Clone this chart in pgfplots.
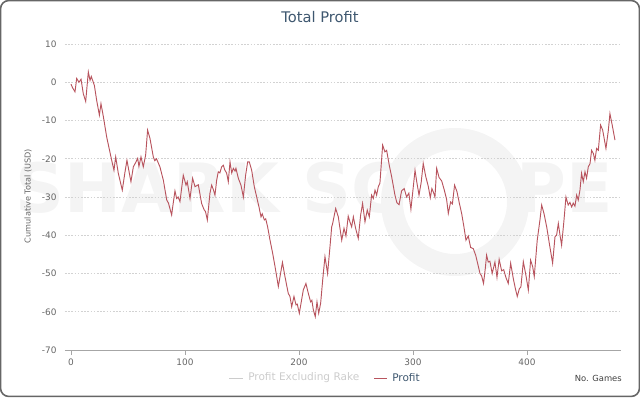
\documentclass[border=0pt]{standalone}
\usepackage{pgfplots}
\pgfplotsset{compat=1.18}
\usepackage{fontspec}
\setmainfont{DejaVu Sans}
\definecolor{linered}{RGB}{184,84,94}
\definecolor{titleblue}{RGB}{62,87,111}
\definecolor{tickgray}{RGB}{102,102,102}
\definecolor{gridgray}{RGB}{210,210,210}
\definecolor{wm}{RGB}{244,244,244}
\definecolor{hidden}{RGB}{204,204,204}
\pgfplotstableread{
g v
0 -0.5
1.5 -1.5
3.5 -2.5
5 1
7 0
8.8 0.8
10.8 -3
12.9 -5
15.2 2.7
16.7 0.5
17.8 1.5
20.5 -0.8
22.5 -4.7
24.9 -8.6
26.3 -5.6
28.4 -9
31.3 -14.3
35.7 -20.4
37.7 -23
39.2 -19.5
41.5 -23.8
45 -28.2
47.4 -23.4
49.1 -20.4
51.2 -23.8
52.6 -26
54.7 -22.1
56.7 -21
58.5 -19.9
59.6 -22
61.4 -19.5
63.4 -22.1
65.5 -19
67.2 -12.5
69.3 -14.7
72.2 -19.5
73.5 -20.5
75 -20
78 -22.1
81 -25.6
84 -30.8
85.5 -31.6
88.3 -34.7
89.5 -32
91.2 -28.4
92.7 -30.4
94 -30
95.6 -31.2
98.5 -24.3
100.9 -26.9
102 -26
104.4 -30.4
106.7 -25.1
108.8 -27.3
111.7 -26.8
114.6 -31.7
116.9 -33.4
118 -33.8
119.6 -36
121.9 -29
123.4 -26.9
124.8 -28
126.3 -29.5
127.8 -25.6
129.2 -23.4
130.6 -23.7
132.2 -22.1
133.6 -21.7
135 -23
136.5 -23.7
138 -26
139.5 -20.8
141 -23.7
142.4 -22.5
143.9 -23.2
144.7 -22.5
146.8 -25.1
149.1 -26.9
151.2 -30
153.2 -24.3
155 -20.8
156.4 -20.8
158.5 -23
160.8 -27.3
162.9 -30
164.9 -32.6
166.7 -35.2
167.8 -34.4
169.6 -36
170.8 -35.7
172.5 -37.8
174.6 -41.3
176.9 -44.7
179 -48.2
181.9 -53.4
185.5 -47.1
187.7 -50.8
190.6 -55.2
192.1 -56
193.6 -58.7
195.6 -56
197.4 -58.2
198.5 -58
200.3 -60.4
202.3 -56.9
203.8 -54.3
206.1 -52.6
208.2 -55.2
210.2 -57.4
211.3 -57
212.6 -59.5
214.3 -61.3
215.8 -57.4
217.3 -60.4
219 -57.8
220.8 -51.7
222.8 -45.6
225.1 -50
227.2 -43
228.7 -37.8
229.5 -37
232.2 -33
234.5 -35.2
237.5 -41.3
239.5 -38.2
241.2 -40.2
243.2 -35
244.7 -36.5
246.2 -37.8
247.7 -35.2
249.7 -38.2
252 -40.8
254.1 -34.7
255.8 -31.7
257.9 -36.5
259.9 -33.4
261.7 -35.2
263.7 -29.5
265.2 -30.4
266.7 -28.2
268.1 -29.5
269.6 -27.3
271 -26.4
273.4 -16.4
275.4 -18.2
276.9 -17.8
279.2 -21.7
281.3 -24.7
284.2 -29.5
285.9 -31.5
287.8 -32
290 -28.4
292.3 -27.8
294.4 -30
296.4 -29
298.2 -33.2
300.3 -27.3
301.8 -23
303.2 -25.8
305.3 -29.5
307.2 -26.2
309 -21.2
311.1 -24.5
313.5 -27.3
315.2 -30.2
316.6 -27.8
318 -28.8
319.3 -30
320.8 -22.5
322.9 -24.9
325.2 -25.8
327.5 -28.2
329.5 -30.6
331 -34.3
333 -31.3
334.6 -31.8
336.5 -26.9
338.6 -28.6
340.6 -31.5
342.7 -34.3
344.7 -37.8
346.5 -41.3
348.5 -40.2
350.6 -43.2
352.9 -43.5
355 -45.2
356.7 -47.3
358.8 -50
360.2 -50.6
361.9 -52.6
363.4 -48.8
364.6 -45.2
366 -47
367.5 -46.8
369.5 -50
371.9 -47
373.7 -51
375.6 -46.3
377.8 -49.3
379.6 -49
381.5 -51
383.6 -52.6
385.7 -47.3
388 -51.3
389.8 -53.9
391.5 -56
393.3 -54
394.7 -53.5
396.8 -46.9
399.1 -50.5
401.2 -54.3
403.2 -46.5
405 -48.2
406.4 -50.8
409 -41.3
411.4 -36
412.9 -32.1
415 -34.4
417.3 -37.8
419.6 -42.1
422.5 -47.3
424.6 -40.4
426 -40
427.5 -36.9
429 -40
430.4 -42.6
432.5 -36
434.2 -30
436.2 -32.1
437.7 -31.4
439.2 -32.6
440.6 -31.6
442.1 -32.4
443.6 -29.5
445 -30.8
446.5 -28.2
447.9 -23.8
449.4 -26
450.9 -23.4
452.3 -25.1
453.8 -22.1
455.3 -21.3
456.7 -17.8
458.2 -18.6
459.6 -20.4
461.1 -17.3
462.6 -17.8
464.6 -11.2
466.4 -12.5
467.8 -14.8
469.3 -17.3
471.3 -12.8
472.8 -8.2
475.1 -11.7
477.2 -15.1
}\profit
\begin{document}
\begin{tikzpicture}[x=0.75pt,y=0.75pt]
\path[use as bounding box] (-65,-47) rectangle (575,350);
\draw[rounded corners=6, draw=black!60, line width=1.2] (-64.4,-46.4) rectangle (574.4,349.4);
% watermark
\node[anchor=base west, inner sep=0, text=wm, font=\fontsize{51pt}{51pt}\selectfont\bfseries] at (-50,137) {SHARK SC};
\node[anchor=base east, inner sep=0, text=wm, font=\fontsize{51pt}{51pt}\selectfont\bfseries] at (548,137) {PE};
\draw[wm, line width=16.5pt] (390,148) circle (63);
\begin{axis}[at={(0,0)}, anchor=south west, scale only axis,
  width=417pt, height=229.5pt,
  xmin=-5.26, xmax=482.5, ymin=-70, ymax=10,
  axis x line=bottom, axis y line=left,
  x axis line style={draw=black!35, -},
  y axis line style={draw=none},
  xtick={0,100,200,300,400}, ytick={-70,-60,...,10},
  ytick style={draw=none},
  xtick style={draw=black!35},
  xtick align=outside, major tick length=3.75pt,
  ymajorgrids,
  grid style={gridgray, dash pattern=on 1.2pt off 1.2pt, line width=0.5pt},
  /pgf/number format/assume math mode=true,
  ticklabel style={font=\fontsize{6.7}{8}\selectfont, text=tickgray},
  yticklabel style={xshift=-1pt},
  xticklabel style={yshift=1pt},
  clip=false]
\addplot[linered, line width=0.7pt, mark=none] table[x=g, y=v] {\profit};
\end{axis}
\node[font=\fontsize{11}{12}\selectfont, text=titleblue] at (255,333) {Total Profit};
\node[rotate=90, font=\fontsize{6.1}{7}\selectfont, text=tickgray] at (-37,154) {Cumulative Total (USD)};
% legend
\draw[hidden, line width=0.75pt] (164,-28) -- (178,-28);
\node[anchor=west, inner sep=0, font=\fontsize{7.9}{9}\selectfont, text=hidden] at (183,-28) {Profit Excluding Rake};
\draw[linered, line width=0.75pt] (309,-28) -- (322,-28);
\node[anchor=west, inner sep=0, font=\fontsize{7.9}{9}\selectfont, text=titleblue] at (327,-28) {Profit};
\node[anchor=east, inner sep=0, font=\fontsize{6.3}{8}\selectfont, text=black!75] at (557,-28) {No. Games};
\end{tikzpicture}
\end{document}
